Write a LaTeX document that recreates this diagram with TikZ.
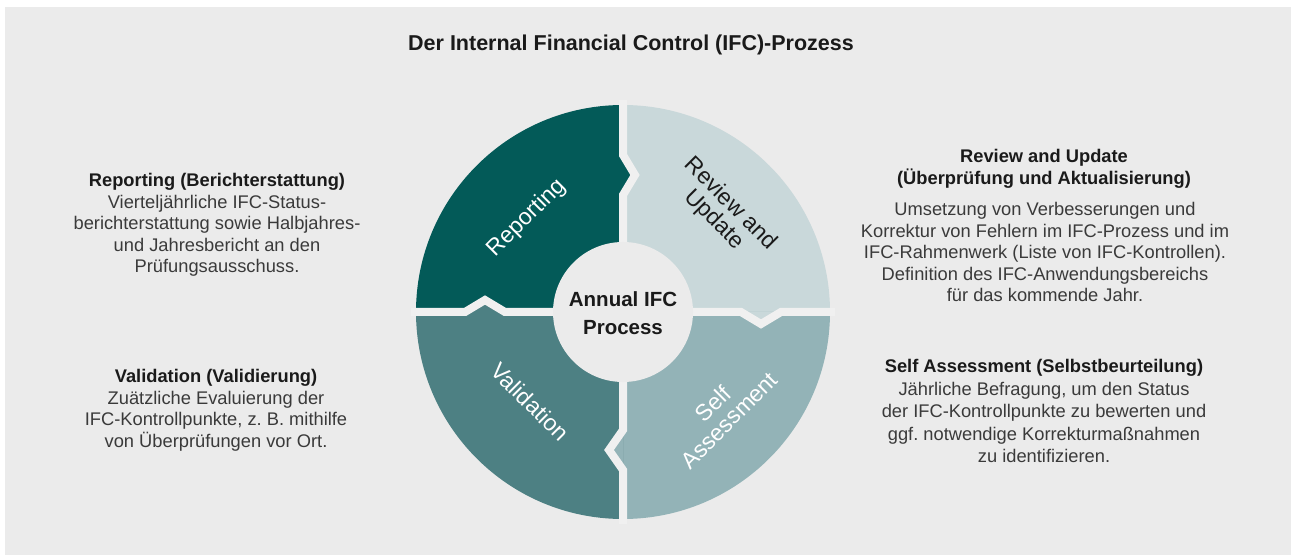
\documentclass[tikz,border=0pt]{standalone}
\usepackage{fontspec}
\setmainfont{Liberation Sans}
\frenchspacing
\definecolor{bgc}{HTML}{EBEBEB}
\definecolor{gapc}{HTML}{F0F0F0}
\definecolor{repc}{HTML}{035A58}
\definecolor{revc}{HTML}{C9D8DA}
\definecolor{selfc}{HTML}{93B3B7}
\definecolor{valc}{HTML}{4D8083}
\definecolor{headc}{HTML}{1A1A1A}
\definecolor{bodyc}{HTML}{3A3A3A}
\begin{document}
\begin{tikzpicture}[x=1pt,y=1pt,
  ringlabel/.style={font=\fontsize{23}{23}\selectfont, align=center, inner sep=0pt},
  blocktext/.style={font=\fontsize{18.3}{21.5}\selectfont, align=center, inner sep=0pt, text=bodyc},
  gapline/.style={gapc, line width=8pt, line join=miter}]
\useasboundingbox (0,0) rectangle (1291,555);
\fill[white] (0,0) rectangle (1291,555);
\fill[bgc] (5,0) rectangle (1291,548);

\node[font=\bfseries\fontsize{21.5}{24}\selectfont, text=headc, inner sep=0pt] (title) at (631,510) {Der Internal Financial Control (IFC)-Prozess};

\begin{scope}[shift={(623,243)}]
  % quadrants
  \fill[repc]  (0,0) -- (180:207) arc[start angle=180, end angle=90, radius=207] -- cycle;
  \fill[revc]  (0,0) -- (90:207) arc[start angle=90, end angle=0, radius=207] -- cycle;
  \fill[selfc] (0,0) -- (0:207) arc[start angle=0, end angle=-90, radius=207] -- cycle;
  \fill[valc]  (0,0) -- (-90:207) arc[start angle=-90, end angle=-180, radius=207] -- cycle;
  % notches
  \fill[repc]  (0,117) -- (12,137) -- (0,157) -- cycle;
  \fill[revc]  (118,0) -- (138,-12) -- (158,0) -- cycle;
  \fill[selfc] (0,-118) -- (-14,-138) -- (0,-158) -- cycle;
  \fill[valc]  (-118,0) -- (-138,12) -- (-158,0) -- cycle;
  % gaps
  \draw[gapline] (0,60) -- (0,117) -- (12,137) -- (0,157) -- (0,212);
  \draw[gapline] (60,0) -- (118,0) -- (138,-12) -- (158,0) -- (212,0);
  \draw[gapline] (0,-60) -- (0,-118) -- (-14,-138) -- (0,-158) -- (0,-212);
  \draw[gapline] (-60,0) -- (-118,0) -- (-138,12) -- (-158,0) -- (-212,0);
  % hub
  \fill[bgc] (0,0) circle (70);
  \node[font=\bfseries\fontsize{20.5}{28}\selectfont, text=headc, align=center, inner sep=0pt] (hub) at (0,-1) {Annual IFC\\Process};
  % ring labels
  \node[ringlabel, text=white, rotate=45] (lrep) at (-96,94) {Reporting};
  \node[ringlabel, text=headc, rotate=-45] (lrev) at (99,100) {Review and\\Update};
  \node[ringlabel, text=white, rotate=-45] (lval) at (-93,-90) {Validation};
  \node[ringlabel, text=white, rotate=45] (lself) at (98,-100) {Self\\Assessment};
\end{scope}

% side blocks
\node[blocktext] (trep) at (217,330) {\textbf{\color{headc}Reporting (Berichterstattung)}\\Vierteljährliche IFC-Status-\\berichterstattung sowie Halbjahres-\\und Jahresbericht an den\\Prüfungsausschuss.};
\node[blocktext] (tval) at (216,144.5) {\textbf{\color{headc}Validation (Validierung)}\\Zuätzliche Evaluierung der\\IFC-Kontrollpunkte, z. B. mithilfe\\von Überprüfungen vor Ort.};
\node[blocktext, font=\bfseries\fontsize{18.3}{22}\selectfont, text=headc] (hrev) at (1044,386) {Review and Update\\(Überprüfung und Aktualisierung)};
\node[blocktext] (trev) at (1045,303) {Umsetzung von Verbesserungen und\\Korrektur von Fehlern im IFC-Prozess und im\\IFC-Rahmenwerk (Liste von IFC-Kontrollen).\\Definition des IFC-Anwendungsbereichs\\für das kommende Jahr.};
\node[blocktext, font=\fontsize{18.3}{22.5}\selectfont] (tself) at (1044,144) {\textbf{\color{headc}Self Assessment (Selbstbeurteilung)}\\Jährliche Befragung, um den Status\\der IFC-Kontrollpunkte zu bewerten und\\ggf. notwendige Korrekturmaßnahmen\\zu identifizieren.};
\end{tikzpicture}
\end{document}
